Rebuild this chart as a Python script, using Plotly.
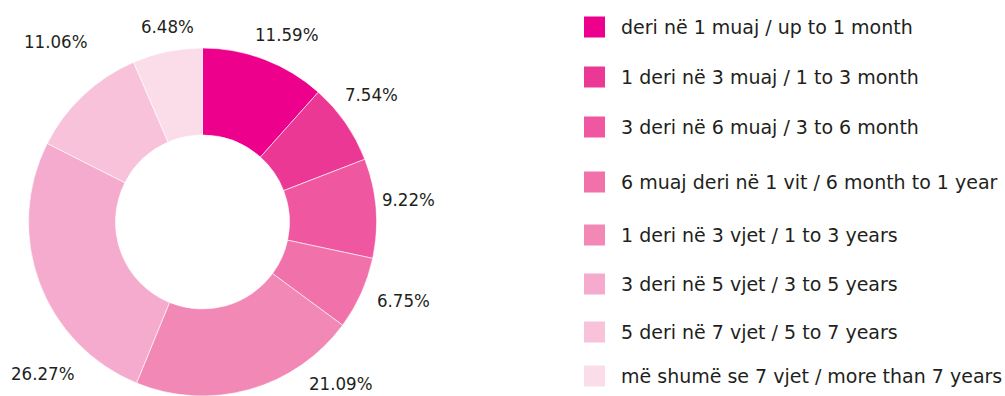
import math
import plotly.graph_objects as go

# Duration categories (Albanian / English) and their shares in percent
categories = [
    "deri në 1 muaj / up to 1 month",
    "1 deri në 3 muaj / 1 to 3 month",
    "3 deri në 6 muaj / 3 to 6 month",
    "6 muaj deri në 1 vit / 6 month to 1 year",
    "1 deri në 3 vjet / 1 to 3 years",
    "3 deri në 5 vjet / 3 to 5 years",
    "5 deri në 7 vjet / 5 to 7 years",
    "më shumë se 7 vjet / more than 7 years",
]
shares = [11.59, 7.54, 9.22, 6.75, 21.09, 26.27, 11.06, 6.48]

colors = ["#EC008C", "#EC3895", "#EF57A0", "#F171AA", "#F288B5",
          "#F4ABCD", "#F7C2DA", "#FBDDEA"]

W, H = 1005, 396
TEXT = "#231F20"
LEGEND_FONT = "DejaVu Sans"
LABEL_FONT = "DejaVu Sans Condensed, DejaVu Sans"

# donut geometry in pixels
cx, cy, R = 202.5, 222.0, 174.0
hole = 0.5

# per-label placement: distance from centre (px) and angular nudge (deg)
label_r = [205, 212, 207, 216, 212, 220, 233, 199]
label_nudge = [3.2, -2.4, -1.6, -3.0, -24.8, -23.0, 4.0, 1.4]

# legend rows (px from top) and geometry
legend_y = [27, 77, 127, 182, 235, 284, 332, 376]
sw_x0, sw_size, txt_x = 584, 21, 619

fig = go.Figure()
fig.add_trace(go.Pie(
    labels=categories,
    values=shares,
    sort=False,
    direction="clockwise",
    rotation=0,
    hole=hole,
    marker=dict(colors=colors, line=dict(color="white", width=0.6)),
    textinfo="none",
    hoverinfo="label+percent",
    showlegend=False,
    domain=dict(x=[(cx - R) / W, (cx + R) / W],
                y=[(H - cy - R) / H, (H - cy + R) / H]),
))

annotations = []
total = sum(shares)
cum = 0.0
for v, r, nd in zip(shares, label_r, label_nudge):
    mid = (cum + v / 2) / total * 360.0
    cum += v
    a = math.radians(mid + nd)
    px = cx + r * math.sin(a)
    py = cy - r * math.cos(a)
    annotations.append(dict(
        x=px / W, y=1 - py / H, xref="paper", yref="paper",
        text=f"{v:.2f}%", showarrow=False,
        xanchor="center", yanchor="middle",
        font=dict(family=LABEL_FONT, size=18.5, color=TEXT),
    ))

shapes = []
for name, col, ly in zip(categories, colors, legend_y):
    shapes.append(dict(
        type="rect", xref="paper", yref="paper",
        x0=sw_x0 / W, x1=(sw_x0 + sw_size) / W,
        y0=1 - (ly + sw_size / 2) / H, y1=1 - (ly - sw_size / 2) / H,
        fillcolor=col, line=dict(width=0),
    ))
    annotations.append(dict(
        x=txt_x / W, y=1 - ly / H, xref="paper", yref="paper",
        text=name, showarrow=False,
        xanchor="left", yanchor="middle",
        font=dict(family=LEGEND_FONT, size=19, color=TEXT),
    ))

fig.update_layout(
    width=W, height=H,
    margin=dict(l=0, r=0, t=0, b=0),
    paper_bgcolor="white",
    plot_bgcolor="white",
    annotations=annotations,
    shapes=shapes,
)

fig.write_html("out.html")
